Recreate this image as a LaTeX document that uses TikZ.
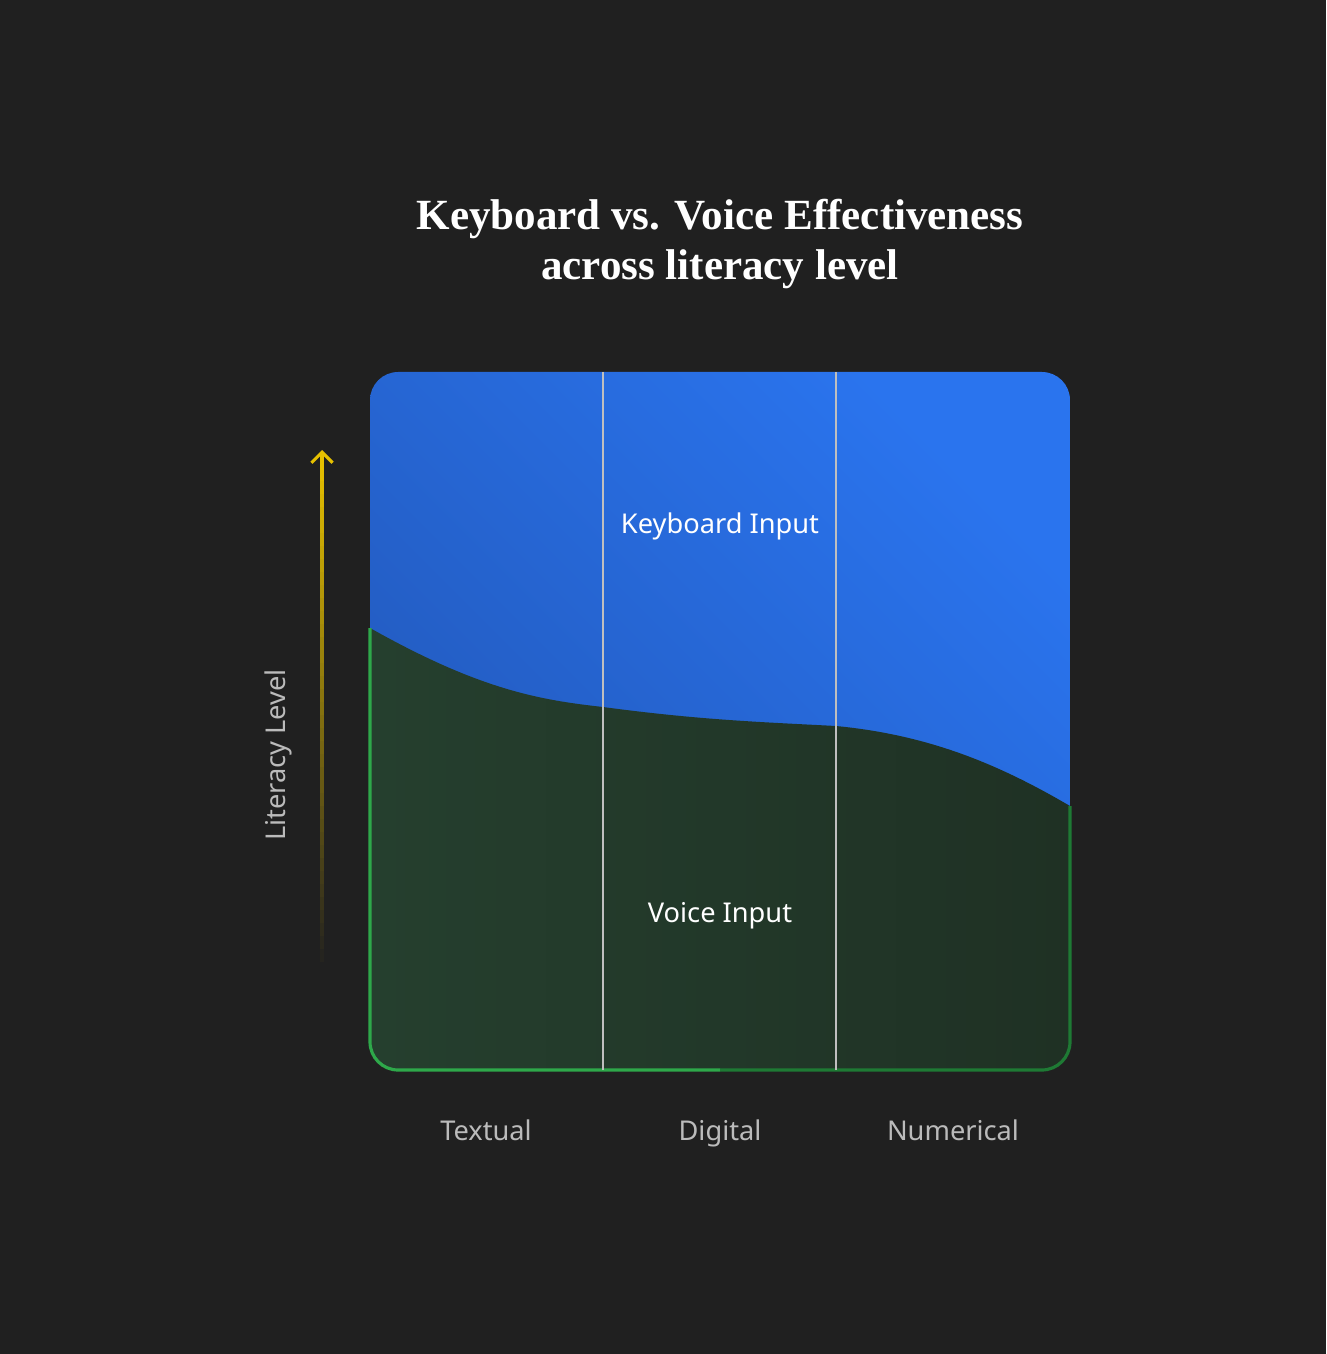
\documentclass[tikz,border=0pt]{standalone}
\usepackage{fontspec}
\setmainfont{Liberation Serif}
\setsansfont{Noto Sans}
\usetikzlibrary{positioning,arrows.meta}
\definecolor{bg}{HTML}{202020}
\definecolor{kbdark}{HTML}{2257B8}
\definecolor{kblight}{HTML}{2A74EE}
\definecolor{vcdark}{HTML}{1F3124}
\definecolor{vclight}{HTML}{253F2E}
\definecolor{vcedge}{HTML}{2EA84A}
\definecolor{vcedgedark}{HTML}{1E7A34}
\definecolor{axisgray}{HTML}{BBBBBB}
\definecolor{arrowgold}{HTML}{E6C000}
\tikzset{
  region/.style={font=\sffamily\fontsize{15.5}{18}\selectfont, text=white},
  category/.style={font=\sffamily\fontsize{15.5}{18}\selectfont, text=axisgray},
  divider/.style={draw=white!75!black, line width=0.6pt}
}
\begin{document}
\begin{tikzpicture}[x=0.02cm,y=-0.02cm]
\fill[bg] (0,0) rectangle (1326,1354);
\useasboundingbox (0,0) rectangle (1326,1354);
% title
\node[font=\bfseries\fontsize{24.5}{28.5}\selectfont, text=white, align=center] (title) at (720,244)
  {Keyboard vs. Voice Effectiveness\\across literacy level};
% chart box
\begin{scope}
\clip[rounded corners=16pt] (370,372) rectangle (1070,1070);
\shade[bottom color=kbdark, top color=kblight, shading angle=-45] (370,372) rectangle (1070,1070);
\shade[left color=vclight, right color=vcdark]
  (370,628) .. controls (480,690) and (540,700) .. (603,707)
  .. controls (700,720) and (760,722) .. (836,726)
  .. controls (930,735) and (1000,765) .. (1070,806) -- (1070,1070) -- (370,1070) -- cycle;
\end{scope}
\draw[vcedge, line width=1.8pt, rounded corners=16pt]
  (370,628) -- (370,1070) -- (720,1070);
\draw[vcedgedark, line width=1.8pt, rounded corners=16pt]
  (720,1070) -- (1070,1070) -- (1070,806);
\coordinate (t1) at (603,372);
\coordinate (b1) at (603,1070);
\coordinate (t2) at (836,372);
\coordinate (b2) at (836,1070);
\draw[divider] (t1) -- (b1);
\draw[divider] (t2) -- (b2);
\node[region] (kb) at (720,526) {Keyboard Input};
\node[region] (vc) at (720,916) {Voice Input};
% categories
\node[category, anchor=base] (textual) at (486,1140) {Textual};
\node[category, anchor=base] (digital) at (720,1140) {Digital};
\node[category, anchor=base] (numerical) at (953,1140) {Numerical};
% literacy axis
\foreach \i in {0,...,39} {
  \pgfmathsetmacro{\op}{\i/39}
  \draw[arrowgold, opacity=\op, line width=1.8pt] (322,{975-\i*13}) -- (322,{975-(\i+1)*13-0.5});
}
\coordinate (tip) at (322,450);
\draw[arrowgold, line width=1.8pt, -{Straight Barb[length=6pt,width=12pt]}] (322,470) -- (tip);
\node[category, rotate=90] (literacy) at (278,755) {Literacy Level};
\end{tikzpicture}
\end{document}
